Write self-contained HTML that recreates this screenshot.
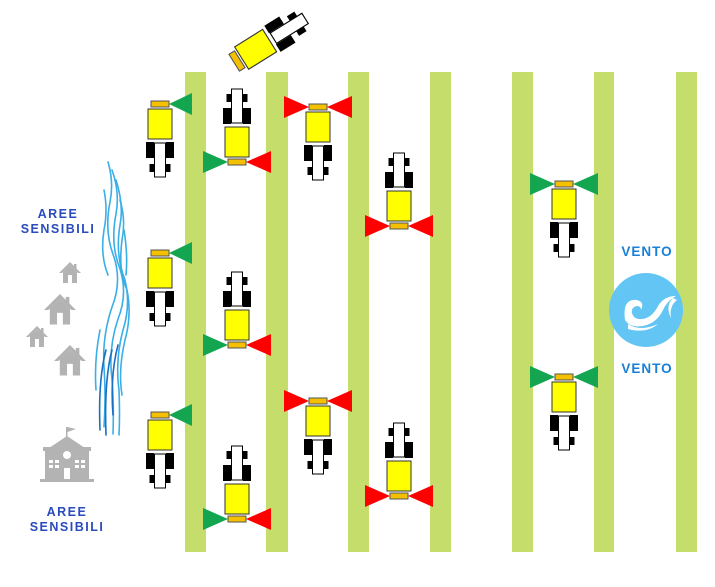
<!DOCTYPE html>
<html><head><meta charset="utf-8"><style>
html,body{margin:0;padding:0;background:#fff}
svg{display:block}
</style></head><body>
<svg width="715" height="587" viewBox="0 0 715 587" xmlns="http://www.w3.org/2000/svg" font-family="Liberation Sans, sans-serif">
<defs>
<g id="veh">
  <rect x="-5.5" y="-73" width="11" height="34" fill="#fff" stroke="#000" stroke-width="1"/>
  <rect x="-10.5" y="-68" width="5" height="8" fill="#000"/>
  <rect x="5.5" y="-68" width="5" height="8" fill="#000"/>
  <rect x="-14" y="-54" width="8" height="16" fill="#000"/>
  <rect x="6" y="-54" width="8" height="16" fill="#000"/>
  <rect x="-12" y="-35" width="24" height="30" fill="#ffff00" stroke="#333" stroke-width="1"/>
  <rect x="-9" y="-3" width="18" height="6" fill="#f5c000" stroke="#555" stroke-width="1"/>
</g>
<polygon id="tl" points="-9,0 -34,-11 -34,11"/>
<polygon id="tr" points="9,0 34,-11 34,11"/>
<g id="house">
  <polygon points="0,11 11,0 22,11 19,11 11,3.5 3,11" fill="#b3b3b3"/>
  <polygon points="4,10 11,3.5 18,10 18,21 4,21" fill="#b3b3b3"/>
  <rect x="9" y="13" width="4" height="8" fill="#fff"/>
  <rect x="15" y="2" width="2.5" height="5" fill="#b3b3b3"/>
</g>
</defs>

<g fill="#c5dd6b">
<rect x="185" y="72" width="21" height="480"/>
<rect x="266" y="72" width="22" height="480"/>
<rect x="348" y="72" width="21" height="480"/>
<rect x="430" y="72" width="21" height="480"/>
<rect x="512" y="72" width="21" height="480"/>
<rect x="594" y="72" width="20" height="480"/>
<rect x="676" y="72" width="21" height="480"/>
</g>

<g transform="translate(160,104) scale(1,-1)"><use href="#veh"/></g>
<g transform="translate(160,104)" fill="#14a550"><polygon points="9,0 32,-11 32,11"/></g>
<g transform="translate(160,253) scale(1,-1)"><use href="#veh"/></g>
<g transform="translate(160,253)" fill="#14a550"><polygon points="9,0 32,-11 32,11"/></g>
<g transform="translate(160,415) scale(1,-1)"><use href="#veh"/></g>
<g transform="translate(160,415)" fill="#14a550"><polygon points="9,0 32,-11 32,11"/></g>

<g transform="translate(237,162)"><use href="#tl" fill="#14a550"/><use href="#tr" fill="#f00"/><use href="#veh"/></g>
<g transform="translate(237,345)"><use href="#tl" fill="#14a550"/><use href="#tr" fill="#f00"/><use href="#veh"/></g>
<g transform="translate(237,519)"><use href="#tl" fill="#14a550"/><use href="#tr" fill="#f00"/><use href="#veh"/></g>

<g transform="translate(318,107) scale(1,-1)"><use href="#tl" fill="#f00"/><use href="#tr" fill="#f00"/><use href="#veh"/></g>
<g transform="translate(318,401) scale(1,-1)"><use href="#tl" fill="#f00"/><use href="#tr" fill="#f00"/><use href="#veh"/></g>

<g transform="translate(399,226)"><use href="#tl" fill="#f00"/><use href="#tr" fill="#f00"/><use href="#veh"/></g>
<g transform="translate(399,496)"><use href="#tl" fill="#f00"/><use href="#tr" fill="#f00"/><use href="#veh"/></g>

<g transform="translate(564,184) scale(1,-1)"><use href="#tl" fill="#14a550"/><use href="#tr" fill="#14a550"/><use href="#veh"/></g>
<g transform="translate(564,377) scale(1,-1)"><use href="#tl" fill="#14a550"/><use href="#tr" fill="#14a550"/><use href="#veh"/></g>

<g transform="translate(237,61) rotate(58) scale(1.1)"><use href="#veh"/></g>

<circle cx="646" cy="310" r="37" fill="#63c5f3"/>
<path d="M625,320 q5,8 18,6 q14,-3 20,-16 q4,-9 13,-14 q-12,0 -18,10 q-6,12 -16,13 q-8,1 -10,-6 q-1,-6 5,-7 q4,0 4,4 q4,-8 -4,-10 q-10,-1 -12,8 q-1,6 0,12 z" fill="#fff"/>
<path d="M628,324 q12,8 30,0 q-12,10 -30,5 z" fill="#fff"/>
<path d="M673,298 q-8,8 -2,20 q-2,-12 6,-18 z" fill="#fff"/>
<g font-size="13.5" font-weight="bold" fill="#1a7fd6" text-anchor="middle" letter-spacing="1">
<text x="647" y="256">VENTO</text>
<text x="647" y="373">VENTO</text>
</g>

<g font-size="12.5" font-weight="bold" fill="#2a4bbd" text-anchor="middle" letter-spacing="1.5">
<text x="58" y="218">AREE</text><text x="58" y="233">SENSIBILI</text>
<text x="67" y="516">AREE</text><text x="67" y="531">SENSIBILI</text>
</g>

<g fill="none" stroke="#3aaee6" stroke-width="1.6" stroke-linecap="round">
<path d="M108,162 q6,20 2,40 q-6,30 4,55 q8,25 -2,50 q-10,30 -8,60 q2,30 0,60"/>
<path d="M112,170 q8,22 4,44 q-6,30 4,55 q8,25 -2,50 q-10,30 -6,60 q2,25 1,55"/>
<path d="M116,180 q8,25 4,45 q-5,30 5,55 q6,25 -2,50 q-8,30 -4,60 q1,25 0,45"/>
<path d="M120,200 q6,20 2,40 q-4,30 5,50 q5,25 -2,50 q-7,30 -3,55"/>
<path d="M104,190 q4,20 0,40 q-4,25 4,45"/>
<path d="M100,330 q-6,30 -4,60"/>
<path d="M124,230 q4,25 2,45"/>
</g>
<g fill="none" stroke="#1a6fc4" stroke-width="1.6" stroke-linecap="round">
<path d="M106,350 q-8,30 -6,80"/>
<path d="M112,350 q-8,30 -6,85"/>
<path d="M118,345 q-8,30 -5,70"/>
</g>

<use href="#house" transform="translate(59,262)"/>
<use href="#house" transform="translate(44,294) scale(1.45)"/>
<use href="#house" transform="translate(26,326)"/>
<use href="#house" transform="translate(54,345) scale(1.45)"/>

<g fill="#b3b3b3">
<rect x="66" y="427" width="1.5" height="12"/>
<polygon points="67.5,427 76,429 67.5,432"/>
<polygon points="49,448 67,436 85,448"/>
<rect x="43" y="447" width="48" height="4"/>
<rect x="45" y="451" width="44" height="29"/>
<rect x="40" y="479" width="54" height="3"/>
</g>
<g fill="#fff">
<circle cx="67" cy="455" r="4"/>
<rect x="64" y="468" width="6" height="11"/>
<rect x="49" y="460" width="4" height="3"/><rect x="55" y="460" width="4" height="3"/>
<rect x="49" y="465" width="4" height="3"/><rect x="55" y="465" width="4" height="3"/>
<rect x="75" y="460" width="4" height="3"/><rect x="81" y="460" width="4" height="3"/>
<rect x="75" y="465" width="4" height="3"/><rect x="81" y="465" width="4" height="3"/>
</g>
</svg>
</body></html>
